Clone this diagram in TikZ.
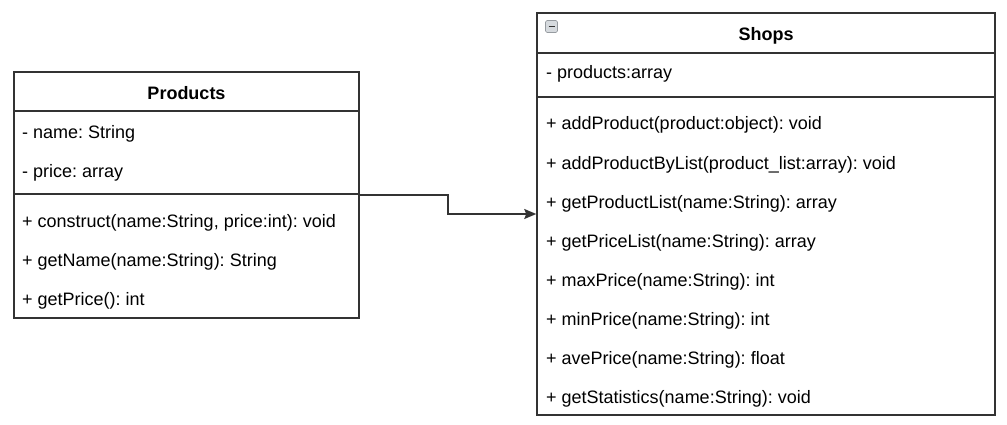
\documentclass[tikz,border=0pt]{standalone}
\usepackage{fontspec}
\setmainfont{Liberation Sans}
\frenchspacing
\usetikzlibrary{arrows.meta,positioning,calc}
\definecolor{UmlLine}{RGB}{51,51,51}
\definecolor{UmlIconFill}{RGB}{214,218,222}
\definecolor{UmlIconLine}{RGB}{150,155,160}
\tikzset{
  uml/class/.style={
    draw=UmlLine,
    line width=1.5pt,
    fill=white,
    inner sep=0pt
  },
  uml/sep/.style={draw=UmlLine, line width=1.5pt},
  uml/title/.style={font=\fontsize{18}{21}\selectfont\bfseries, text=black, anchor=base, inner sep=0pt},
  uml/row/.style={font=\fontsize{18}{21}\selectfont, text=black, anchor=base west, inner sep=0pt},
  uml/arrow/.style={-{Stealth[length=12pt,width=10pt,inset=2pt]}, line width=1.5pt, draw=UmlLine},
  uml/icon/.style={draw=UmlIconLine, line width=0.6pt, rounded corners=1.5pt, fill=UmlIconFill,
    minimum size=12pt, inner sep=0pt}
}

\begin{document}
\begin{tikzpicture}[x=1pt,y=-1pt]
  \useasboundingbox (0,0) rectangle (1007,425);

  % Products class
  \node[uml/class,minimum width=345pt,minimum height=246pt] (products) at (186.5,195) {};
  \node[uml/title] (productsTitle) at (186.5,100) {Products};
  \draw[uml/sep] (14,111) -- (359,111);
  \draw[uml/sep] (14,194) -- (359,194);
  \foreach \txt [count=\i] in {{- name: String},{- price: array}}
    \node[uml/row] (productsAttr\i) at (22,100+39*\i) {\txt};
  \foreach \txt [count=\i] in {{+ construct(name:String, price:int): void},
                               {+ getName(name:String): String},
                               {+ getPrice(): int}}
    \node[uml/row] (productsOp\i) at (22,188+39*\i) {\txt};

  % Shops class
  \node[uml/class,minimum width=458pt,minimum height=402pt] (shops) at (766,214) {};
  \node[uml/icon] (shopsIcon) at (551.5,26.5) {};
  \draw[UmlLine, line width=1.6pt] ($(shopsIcon.center)+(-3,0)$) -- ($(shopsIcon.center)+(3,0)$);
  \node[uml/title] (shopsTitle) at (766,41) {Shops};
  \draw[uml/sep] (537,53) -- (995,53);
  \draw[uml/sep] (537,97) -- (995,97);
  \node[uml/row] (shopsAttr1) at (546,79) {- products:array};
  \foreach \txt [count=\i] in {{+ addProduct(product:object): void},
                               {+ addProductByList(product\_list:array): void},
                               {+ getProductList(name:String): array},
                               {+ getPriceList(name:String): array},
                               {+ maxPrice(name:String): int},
                               {+ minPrice(name:String): int},
                               {+ avePrice(name:String): float},
                               {+ getStatistics(name:String): void}}
    \node[uml/row] (shopsOp\i) at (546,91+39*\i) {\txt};

  % association
  \draw[uml/arrow] (products.east) -| ($(products.east)!0.5!(shops.west)$) |- (shops.west);
\end{tikzpicture}
\end{document}
